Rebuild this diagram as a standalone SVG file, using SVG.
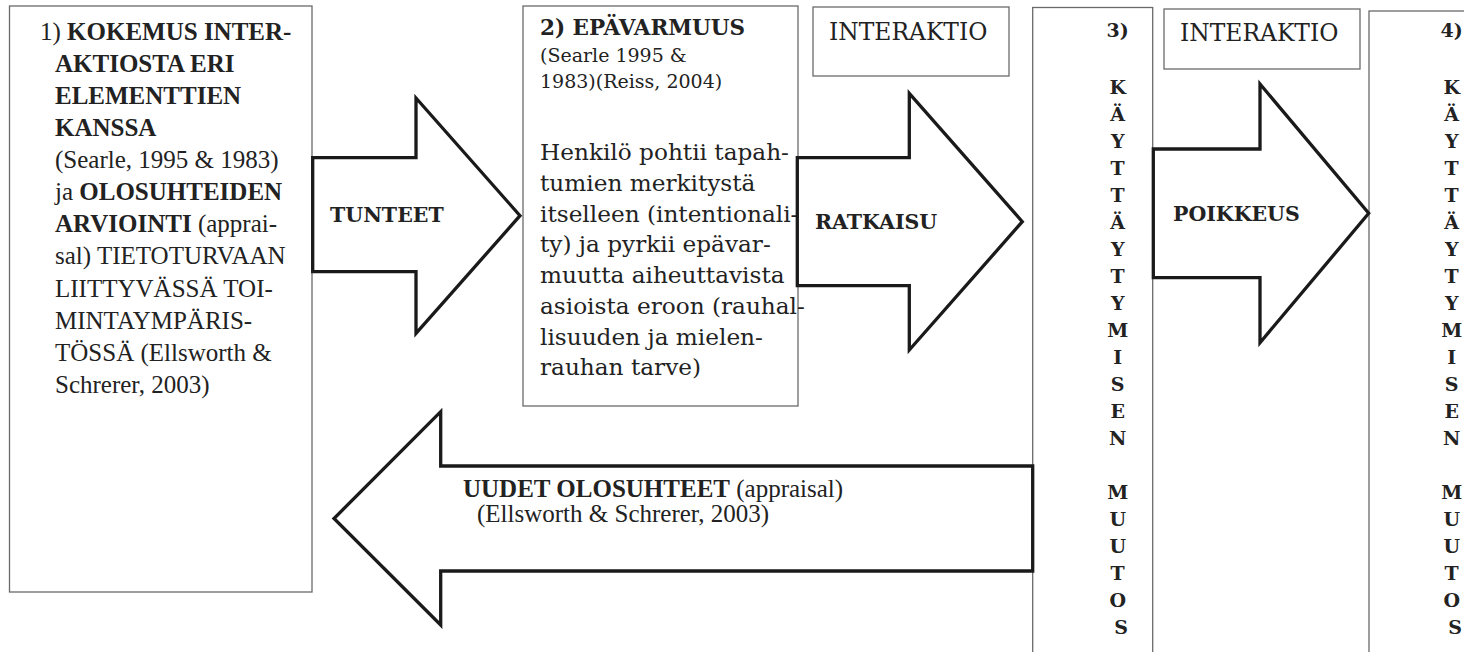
<svg xmlns="http://www.w3.org/2000/svg" width="1464" height="652" viewBox="0 0 1464 652">
<style>
.box{fill:#fff;stroke:#6a6a6a;stroke-width:1.3}
.arr{fill:#fff;stroke:#1a1a1a;stroke-width:3.3;stroke-linejoin:miter}
.tm{font-family:"Liberation Serif","Times New Roman",serif;font-size:25px;fill:#222}
.pa{font-family:"DejaVu Serif",serif;fill:#222}
.b{font-weight:bold}
.lbl{font-family:"DejaVu Serif",serif;font-weight:bold;font-size:20.5px;fill:#222}
.col{font-family:"DejaVu Serif",serif;font-weight:bold;font-size:19px;fill:#222;text-anchor:middle}
</style>
<rect width="1464" height="652" fill="#fff"/>
<g id="node1">
<rect class="box" x="9.5" y="6" width="302.5" height="586"/>
<text class="tm">
<tspan x="40" y="40">1) <tspan class="b">KOKEMUS INTER-</tspan></tspan>
<tspan x="55" y="72" class="b">AKTIOSTA ERI</tspan>
<tspan x="55" y="104" class="b">ELEMENTTIEN</tspan>
<tspan x="55" y="136" class="b">KANSSA</tspan>
<tspan x="55" y="168">(Searle, 1995 &amp; 1983)</tspan>
<tspan x="55" y="200">ja <tspan class="b">OLOSUHTEIDEN</tspan></tspan>
<tspan x="55" y="232"><tspan class="b">ARVIOINTI</tspan> (apprai-</tspan>
<tspan x="55" y="264">sal) TIETOTURVAAN</tspan>
<tspan x="55" y="296.5">LIITTYVÄSSÄ TOI-</tspan>
<tspan x="55" y="328.5">MINTAYMPÄRIS-</tspan>
<tspan x="55" y="360.5">TÖSSÄ (Ellsworth &amp;</tspan>
<tspan x="55" y="392.5">Schrerer, 2003)</tspan>
</text>
</g>
<g id="node2">
<rect class="box" x="523" y="6" width="275" height="400"/>
<text class="pa b" x="540" y="35" font-size="21.5">2) EPÄVARMUUS</text>
<text class="pa" font-size="19">
<tspan x="540" y="62">(Searle 1995 &amp;</tspan>
<tspan x="540" y="88">1983)(Reiss, 2004)</tspan>
</text>
<text class="pa" font-size="23.2">
<tspan x="540" y="160">Henkilö pohtii tapah-</tspan>
<tspan x="540" y="190.75">tumien merkitystä</tspan>
<tspan x="540" y="221.5">itselleen (intentionali-</tspan>
<tspan x="540" y="252.25">ty) ja pyrkii epävar-</tspan>
<tspan x="540" y="283">muutta aiheuttavista</tspan>
<tspan x="540" y="313.75">asioista eroon (rauhal-</tspan>
<tspan x="540" y="344.5">lisuuden ja mielen-</tspan>
<tspan x="540" y="375.25">rauhan tarve)</tspan>
</text>
</g>
<g id="interaktio1">
<rect class="box" x="813" y="7" width="196" height="69"/>
<text class="pa" font-size="23.4" x="829" y="40">INTERAKTIO</text>
</g>
<g id="interaktio2">
<rect class="box" x="1164" y="9" width="196" height="60"/>
<text class="pa" font-size="23.4" x="1180" y="40.5">INTERAKTIO</text>
</g>
<g id="node3">
<rect class="box" x="1032.7" y="7.5" width="120" height="660"/>
<text class="col">
<tspan x="1121" y="37">3)</tspan>
<tspan x="1121" y="93.5">K</tspan>
<tspan x="1121" dy="27.03">Ä</tspan>
<tspan x="1121" dy="27.03">Y</tspan>
<tspan x="1121" dy="27.03">T</tspan>
<tspan x="1121" dy="27.03">T</tspan>
<tspan x="1121" dy="27.03">Ä</tspan>
<tspan x="1121" dy="27.03">Y</tspan>
<tspan x="1121" dy="27.03">T</tspan>
<tspan x="1121" dy="27.03">Y</tspan>
<tspan x="1121" dy="27.03">M</tspan>
<tspan x="1121" dy="27.03">I</tspan>
<tspan x="1121" dy="27.03">S</tspan>
<tspan x="1121" dy="27.03">E</tspan>
<tspan x="1121" dy="27.03">N</tspan>
<tspan x="1121" dy="54.06">M</tspan>
<tspan x="1121" dy="27.03">U</tspan>
<tspan x="1121" dy="27.03">U</tspan>
<tspan x="1121" dy="27.03">T</tspan>
<tspan x="1121" dy="27.03">O</tspan>
<tspan x="1121" dy="27.03">S</tspan>
</text>
</g>
<g id="node4">
<rect class="box" x="1369" y="11" width="120" height="660"/>
<text class="col">
<tspan x="1455" y="37">4)</tspan>
<tspan x="1455" y="93.5">K</tspan>
<tspan x="1455" dy="27.03">Ä</tspan>
<tspan x="1455" dy="27.03">Y</tspan>
<tspan x="1455" dy="27.03">T</tspan>
<tspan x="1455" dy="27.03">T</tspan>
<tspan x="1455" dy="27.03">Ä</tspan>
<tspan x="1455" dy="27.03">Y</tspan>
<tspan x="1455" dy="27.03">T</tspan>
<tspan x="1455" dy="27.03">Y</tspan>
<tspan x="1455" dy="27.03">M</tspan>
<tspan x="1455" dy="27.03">I</tspan>
<tspan x="1455" dy="27.03">S</tspan>
<tspan x="1455" dy="27.03">E</tspan>
<tspan x="1455" dy="27.03">N</tspan>
<tspan x="1455" dy="54.06">M</tspan>
<tspan x="1455" dy="27.03">U</tspan>
<tspan x="1455" dy="27.03">U</tspan>
<tspan x="1455" dy="27.03">T</tspan>
<tspan x="1455" dy="27.03">O</tspan>
<tspan x="1455" dy="27.03">S</tspan>
</text>
</g>
<g id="connectors">
<g id="arrow-tunteet">
<polygon class="arr" points="312.7,157.7 416,157.7 416,98 520,215.7 416,333.4 416,271.7 312.7,271.7"/>
<text class="lbl" x="330" y="222.3">TUNTEET</text>
</g>
<g id="arrow-ratkaisu">
<polygon class="arr" points="797.3,157.7 909.3,157.7 909.3,93.3 1022.3,221.7 909.3,350 909.3,285.7 797.3,285.7"/>
<text class="lbl" x="815" y="229.3">RATKAISU</text>
</g>
<g id="arrow-poikkeus">
<polygon class="arr" points="1153.3,149 1260,149 1260,84 1368.7,213.3 1260,342.7 1260,277.7 1153.3,277.7"/>
<text class="lbl" x="1173" y="220.7">POIKKEUS</text>
</g>
<g id="arrow-uudet">
<polygon class="arr" points="1032.7,466 440.7,466 440.7,411.7 334,518.5 440.7,625 440.7,571 1032.7,571"/>
<text class="tm"><tspan x="463" y="497"><tspan class="b">UUDET OLOSUHTEET</tspan> (appraisal)</tspan><tspan x="477" y="522">(Ellsworth &amp; Schrerer, 2003)</tspan></text>
</g>
</g>
</svg>
